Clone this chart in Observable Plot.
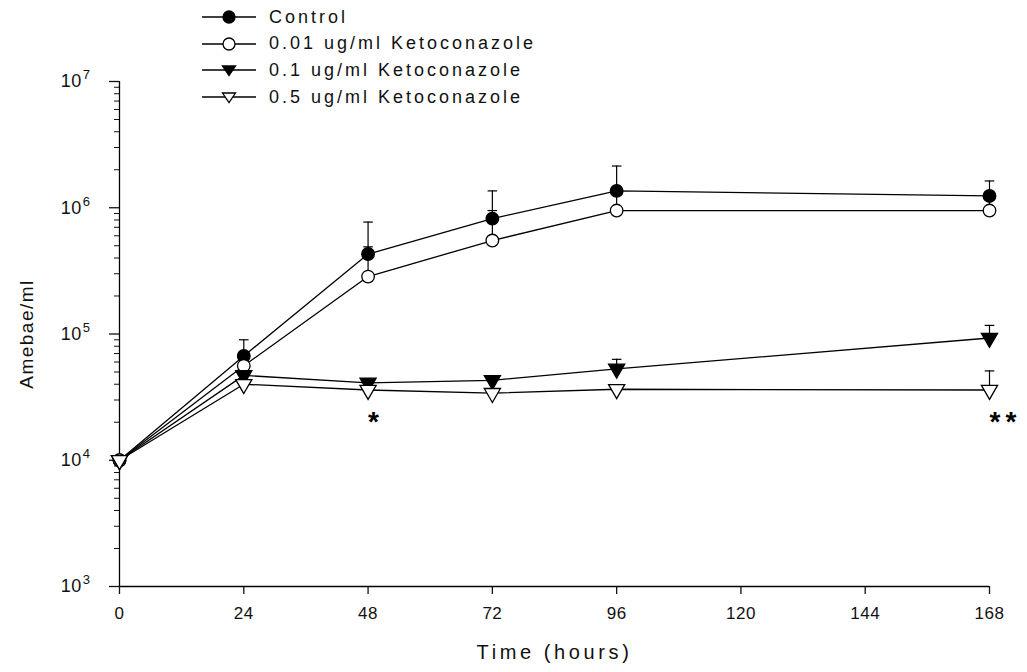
<!DOCTYPE html>
<html>
<head>
<meta charset="utf-8">
<script src="https://cdn.jsdelivr.net/npm/d3@7"></script>
<script src="https://cdn.jsdelivr.net/npm/@observablehq/plot@0.6"></script>
<style>
  html, body { margin: 0; padding: 0; background: #fff; }
  #figure { position: relative; width: 1027px; height: 672px; font-family: "Liberation Sans", Arial, sans-serif; color: #111; }
  #legend { position: absolute; left: 202px; top: 4px; }
  .row { display: flex; align-items: center; height: 26.6px; }
  .row span { margin-left: 13px; font-size: 18px; letter-spacing: 3px; }
  #figure svg g[aria-label="x-axis tick label"] text { font-size: 17px !important; letter-spacing: 0.5px; }
  #figure svg g[aria-label="y-axis tick label"] text { font-size: 18px !important; letter-spacing: 0.5px; }
  #figure svg g[aria-label="x-axis label"] text { font-size: 20px !important; letter-spacing: 3.6px; }
  #figure svg g[aria-label="y-axis label"] text { font-size: 19px !important; letter-spacing: 1.5px; }
</style>
</head>
<body>
<div id="figure"><div id="legend"></div></div>
<script>
// Sampling times (hours)
const times = [0, 24, 48, 72, 96, 168];

// Series names
const seriesNames = [
  "Control",
  "0.01 ug/ml Ketoconazole",
  "0.1 ug/ml Ketoconazole",
  "0.5 ug/ml Ketoconazole"
];

// Mean amebae/ml for each series
const controlMean = [1e4, 6.7e4, 4.3e5, 8.2e5, 1.36e6, 1.24e6];
const keto001Mean = [1e4, 5.6e4, 2.85e5, 5.5e5, 9.5e5, 9.5e5];
const keto01Mean  = [1e4, 4.7e4, 4.1e4, 4.3e4, 5.3e4, 9.3e4];
const keto05Mean  = [1e4, 4.0e4, 3.6e4, 3.4e4, 3.65e4, 3.6e4];

// Upper end of each error bar (null = no bar)
const controlUpper = [null, 9.0e4, 7.7e5, 1.36e6, 2.14e6, 1.63e6];
const keto001Upper = [null, 6.2e4, 4.9e5, 9.5e5, 1.25e6, 1.15e6];
const keto01Upper  = [null, 5.2e4, 4.4e4, 4.6e4, 6.3e4, 1.17e5];
const keto05Upper  = [null, null, null, null, 3.9e4, 5.1e4];

// Significance markers
const noteTimes  = [48, 168];
const noteValues = [2.0e4, 2.0e4];
const noteLabels = ["*", "**"];

// Axis ticks
const xTicks = [0, 24, 48, 72, 96, 120, 144, 168];
const decades = [1e3, 1e4, 1e5, 1e6, 1e7];

const means = [controlMean, keto001Mean, keto01Mean, keto05Mean];
const uppers = [controlUpper, keto001Upper, keto01Upper, keto05Upper];
const symbols = ["circle", "circle", "triangle", "triangle"];
const fills = ["black", "white", "black", "white"];

const rows = seriesNames.flatMap((name, s) => times.map((t, i) => ({
  series: name, s, t, value: means[s][i], upper: uppers[s][i]
})));
const bars = rows.filter(d => d.upper != null);
const notes = noteTimes.map((t, i) => ({t, y: noteValues[i], label: noteLabels[i]}));

const minorTicks = decades.slice(0, -1).flatMap(d => [2, 3, 4, 5, 6, 7, 8, 9].map(k => k * d));

const exponent = d => String(Math.round(Math.log10(d)));

// Horizontal cap for error bars
const capSymbol = {draw(ctx, size) { const w = Math.sqrt(size); ctx.moveTo(-w, 0); ctx.lineTo(w, 0); }};

const seriesMarks = (s) => {
  const data = rows.filter(d => d.s === s);
  return Plot.dot(data, {
    x: "t", y: "value", symbol: () => symbols[s], r: symbols[s] === "circle" ? 6.3 : 6,
    rotate: symbols[s] === "triangle" ? 180 : 0,
    fill: fills[s], stroke: "black", strokeWidth: 1.3
  });
};

const chart = Plot.plot({
  width: 1027,
  height: 672,
  marginLeft: 119,
  marginRight: 38,
  marginTop: 81,
  marginBottom: 86,
  x: {domain: [0, 168]},
  y: {type: "log", domain: [1e3, 1e7]},
  style: {fontFamily: "'Liberation Sans', Arial, sans-serif", fontSize: "16px", color: "#111", background: "white"},
  marks: [
    Plot.ruleX([0], {y1: 1e3, y2: 1e7, stroke: "black", strokeWidth: 1.3}),
    Plot.ruleY([1e3], {x1: 0, x2: 168, stroke: "black", strokeWidth: 1.3}),
    Plot.axisX({ticks: xTicks, tickSize: 8, tickPadding: 12, tickFormat: d => String(d),
      label: "Time (hours)", labelAnchor: "center", labelArrow: "none", labelOffset: 72,
      strokeWidth: 1.3}),
    Plot.axisY({ticks: minorTicks, tickSize: 5, tickFormat: () => "", label: null, strokeWidth: 1}),
    Plot.axisY({ticks: decades, tickSize: 10, tickPadding: 19, tickFormat: () => "10",
      label: "Amebae/ml", labelAnchor: "center", labelArrow: "none", labelOffset: 100,
      strokeWidth: 1.3}),
    Plot.line(rows, {x: "t", y: "value", z: "series", stroke: "black", strokeWidth: 1.3}),
    Plot.ruleX(bars, {x: "t", y1: "value", y2: "upper", stroke: "black", strokeWidth: 1.2}),
    Plot.dot(bars, {x: "t", y: "upper", symbol: capSymbol, r: 2.7, stroke: "black", strokeWidth: 1.2}),
    ...seriesNames.map((_, s) => seriesMarks(s)),
    Plot.text(notes, {x: "t", y: "y", text: "label", textAnchor: "start", dx: 0, fontSize: 28, fontWeight: "bold", fill: "black"})
  ]
});

document.getElementById("figure").appendChild(chart);

// Decade labels as 10 with a raised exponent
d3.select(chart).selectAll('g[aria-label="y-axis tick label"] text')
  .filter(function() { return this.textContent === "10"; })
  .each(function(d, i) {
    d3.select(this).append("tspan").attr("dx", "1").attr("dy", "-0.6em").attr("font-size", "13px").text(exponent(decades[i]));
  });
d3.select(chart).selectAll('g[aria-label="text"] text').attr("letter-spacing", "5px");

// Legend
const legend = d3.select("#legend");
seriesNames.forEach((name, s) => {
  const row = legend.append("div").attr("class", "row");
  const svg = row.append("svg").attr("width", 54).attr("height", 26);
  svg.append("line").attr("x1", 0).attr("x2", 54).attr("y1", 13).attr("y2", 13)
    .attr("stroke", "black").attr("stroke-width", 1.3);
  if (symbols[s] === "circle") {
    svg.append("circle").attr("cx", 27).attr("cy", 13).attr("r", 6)
      .attr("fill", fills[s]).attr("stroke", "black").attr("stroke-width", 1.3);
  } else {
    svg.append("path").attr("d", "M20.5,9 L33.5,9 L27,18.5 Z")
      .attr("fill", fills[s]).attr("stroke", "black").attr("stroke-width", 1.3);
  }
  row.append("span").text(name);
});
</script>
</body>
</html>
